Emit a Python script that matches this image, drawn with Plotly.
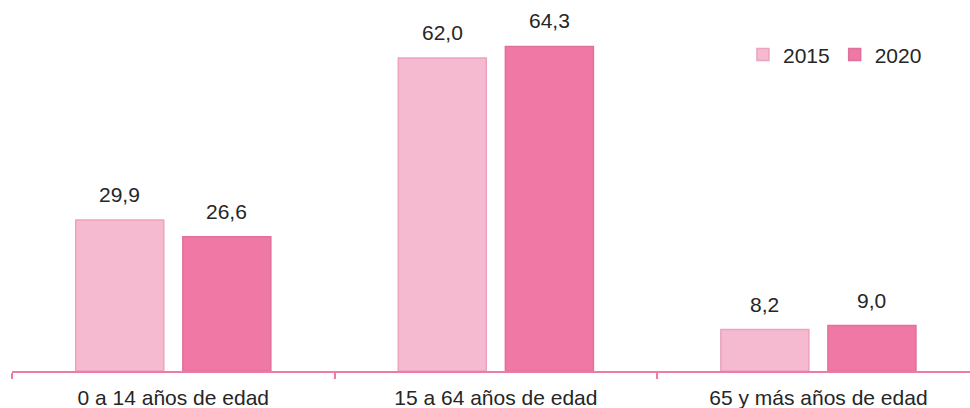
import plotly.graph_objects as go

categories = ["0 a 14 años de edad", "15 a 64 años de edad", "65 y más años de edad"]
series_names = ["2015", "2020"]
values_2015 = [29.9, 62.0, 8.2]
values_2020 = [26.6, 64.3, 9.0]

colors = ["#F5B9D0", "#F078A5"]
line_colors = ["#EBA3BF", "#E0719C"]

W, H = 970, 408
ml, mr, mt, mb = 12, 0, 0, 37
bargap = 0.336
bargroupgap = 0.178
xrange = [-0.5, 2.47]
yrange = [0, 73.5]
FONT = "Liberation Sans, Arial"

fig = go.Figure()
for name, vals, c, lc in zip(series_names, [values_2015, values_2020], colors, line_colors):
    fig.add_trace(go.Bar(
        name=name, x=categories, y=vals,
        marker=dict(color=c, line=dict(color=lc, width=1.5)),
    ))

# value labels as annotations above each bar
px_per_unit = (W - ml - mr) / (xrange[1] - xrange[0])
offset = (1 - bargap) / 4 * px_per_unit
for k, vals in enumerate([values_2015, values_2020]):
    sign = -1 if k == 0 else 1
    for cat, v in zip(categories, vals):
        fig.add_annotation(
            x=cat, y=v, xref="x", yref="y",
            text=f"{v:.1f}".replace(".", ","),
            showarrow=False, yanchor="bottom", xanchor="center",
            xshift=sign * offset, yshift=12,
            font=dict(family=FONT, size=21, color="#262626"),
        )

fig.update_layout(
    width=W, height=H,
    margin=dict(l=ml, r=mr, t=mt, b=mb, pad=0),
    paper_bgcolor="white", plot_bgcolor="white",
    barmode="group", bargap=bargap, bargroupgap=bargroupgap,
    font=dict(family=FONT, size=21, color="#262626"),
    showlegend=True,
    legend=dict(
        orientation="h", x=0.763, y=0.852, xanchor="left", yanchor="middle",
        font=dict(size=21, color="#262626"), itemwidth=30,
        bgcolor="rgba(0,0,0,0)", traceorder="normal",
    ),
    xaxis=dict(
        type="category", range=xrange, showline=True, linecolor="#F07AA6", linewidth=1.5,
        ticks="outside", tickson="boundaries", ticklen=6, tickcolor="#F07AA6", tickwidth=1.5,
        ticklabelstandoff=7,
        showgrid=False, zeroline=False,
        tickfont=dict(family=FONT, size=21, color="#262626"),
    ),
    yaxis=dict(range=yrange, visible=False, showgrid=False, zeroline=False),
)

fig.write_html("out.html")
